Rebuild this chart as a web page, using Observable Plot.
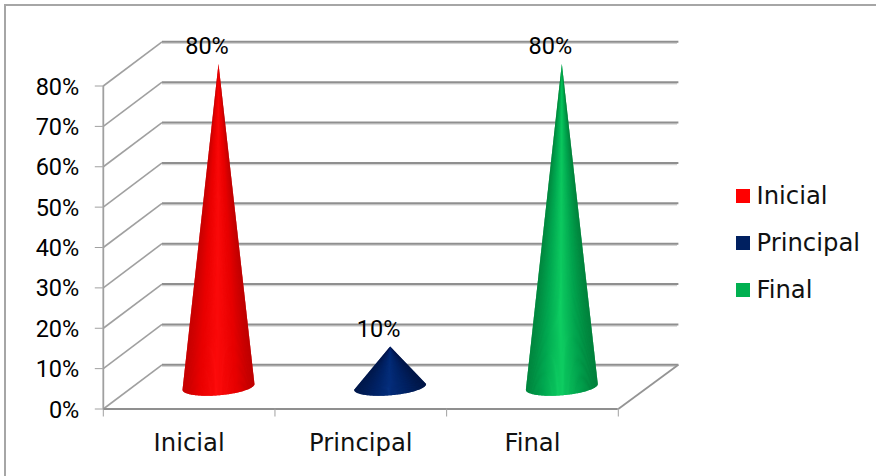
<!DOCTYPE html>
<html>
<head>
<meta charset="utf-8">
<script src="https://cdn.jsdelivr.net/npm/d3@7"></script>
<script src="https://cdn.jsdelivr.net/npm/@observablehq/plot@0.6"></script>
<style>
html,body{margin:0;padding:0;background:#fff;width:876px;height:476px;overflow:hidden}
#wrap{position:relative;width:876px;height:476px}
#wrap svg{position:absolute;left:0;top:0;background:transparent}
#border{position:absolute;left:4px;top:4px;right:0;bottom:0;border-left:2px solid #a6a6a6;border-top:2px solid #a6a6a6}
.lg{position:absolute;left:736px;font:24.3px "DejaVu Sans";color:#111;line-height:28px;white-space:nowrap}
.lg i{position:absolute;left:0;top:7px;width:14px;height:14px}
.lg span{position:absolute;left:20.5px;top:0}
</style>
</head>
<body>
<div id="wrap"><div id="border"></div></div>
<script>
const categories = ["Inicial", "Principal", "Final"];
const values = [80, 10, 80];
const swatches = ["#ff0000", "#002060", "#00b050"];
const shades = [
  ["#b50000", "#e60000", "#ff0c0c", "#e40000", "#a80000"],
  ["#001540", "#00205f", "#06307f", "#00205f", "#00123a"],
  ["#007436", "#00a24e", "#10d264", "#009c4a", "#006c32"]
];
const yTicks = [0, 10, 20, 30, 40, 50, 60, 70, 80];
const xBounds = [0, 1, 2, 3];
const legendY = [182, 229, 276];

const depthX = 0.342, depthY = 10.95;
const radius = 0.198, tilt = 0.2, facets = 90;
const pct = d => d + "%";

const cones = [], outlines = [];
categories.forEach((c, i) => {
  const cx = i + 0.5 + depthX / 2, cy = depthY / 2;
  const shade = d3.scaleLinear().domain([0, .22, .48, .76, 1]).range(shades[i]);
  const pt = t => ({
    x: cx + radius * Math.cos(t) + tilt * depthX * Math.sin(t),
    y: cy + tilt * depthY * Math.sin(t)
  });
  const reach = Math.hypot(radius, tilt * depthX);
  const start = Math.atan2(tilt * depthX, radius);
  const tip = {x: cx, y: cy + values[i]};
  const under = d3.color(shade(.3)).formatHex();
  outlines.push({...tip, id: c, col: under});
  d3.range(facets + 1).forEach(k => {
    outlines.push({...pt(start - Math.PI * k / facets), id: c, col: under});
  });
  outlines.push({...tip, id: c, col: under});
  d3.range(facets).forEach(k => {
    const t0 = start - Math.PI * k / facets, t1 = start - Math.PI * (k + 1) / facets;
    const p0 = pt(t0), p1 = pt(t1), pm = pt((t0 + t1) / 2);
    const col = d3.color(shade((pm.x - cx) / reach / 2 + .5)).formatHex();
    const id = c + k;
    [tip, p0, p1, tip].forEach(p => cones.push({x: p.x, y: p.y, id, col}));
  });
});

const backLevels = yTicks.map(v => ({v}));
const font = "Roboto";
const chart = Plot.plot({
  width: 876, height: 476,
  marginLeft: 102.8, marginRight: 258.2, marginTop: 85.5, marginBottom: 67.5,
  x: {domain: [0, 3], axis: null},
  y: {domain: [0, 80], axis: null},
  marks: [
    Plot.link(backLevels, {x1: depthX, x2: 3 + depthX, y1: d => d.v + depthY, y2: d => d.v + depthY, stroke: "#d4d4d4", strokeWidth: 1.5, dy: 1.5}),
    Plot.link(backLevels, {x1: depthX, x2: 3 + depthX + .008, y1: d => d.v + depthY, y2: d => d.v + depthY, stroke: "#8f8f8f", strokeWidth: 2}),
    Plot.link(backLevels, {x1: 0, x2: depthX, y1: d => d.v, y2: d => d.v + depthY, stroke: "#a0a0a0", strokeWidth: 1.6}),
    Plot.link([3], {x1: 3, x2: 3 + depthX + .008, y1: 0, y2: depthY, stroke: "#949494", strokeWidth: 1.8}),
    Plot.ruleX([0], {y1: 0, y2: 80, stroke: "#a0a0a0", strokeWidth: 1.8}),
    Plot.ruleY([0], {x1: 0, x2: 3, stroke: "#8f8f8f", strokeWidth: 2}),
    Plot.axisY({ticks: yTicks, tickSize: 8, text: null, stroke: "#a0a0a0", label: null}),
    Plot.text(yTicks, {x: 0, y: d => d, text: pct, dx: -24, dy: 1, textAnchor: "end", fill: "#000", fontSize: 23.5, fontFamily: font}),
    Plot.axisX({ticks: xBounds, text: null, tickSize: 8, stroke: "#a0a0a0", label: null}),
    Plot.text(categories, {x: (d, i) => i + .5, y: 0, text: d => d, dy: 34, fill: "#111", fontSize: 24.3, fontFamily: "DejaVu Sans"}),
    Plot.line(outlines, {x: "x", y: "y", z: "id", fill: "col", stroke: "none"}),
    Plot.line(cones, {x: "x", y: "y", z: "id", fill: "col", stroke: "none"}),
    Plot.text(values, {x: (d, i) => i + .5 + depthX / 2, y: d => d + depthY / 2, text: pct, dx: -11.5, dy: -17, fill: "#000", fontSize: 23.5, fontFamily: font})
  ]
});
const wrap = document.getElementById("wrap");
wrap.appendChild(chart);
categories.forEach((c, i) => {
  const d = document.createElement("div");
  d.className = "lg";
  d.style.top = legendY[i] + "px";
  const sw = document.createElement("i");
  sw.style.background = swatches[i];
  const t = document.createElement("span");
  t.textContent = c;
  d.append(sw, t);
  wrap.appendChild(d);
});
</script>
</body>
</html>
